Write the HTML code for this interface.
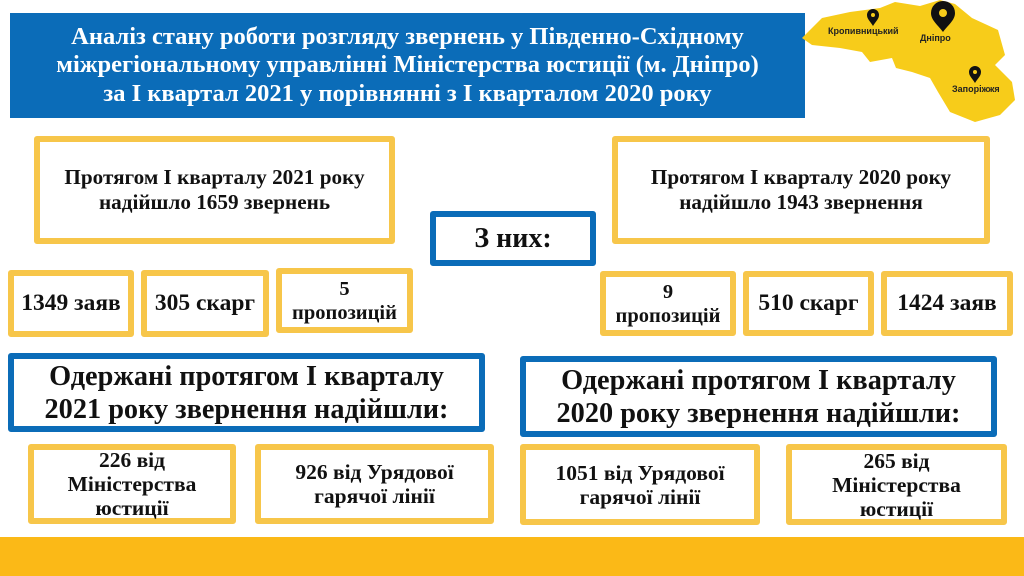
<!DOCTYPE html>
<html><head><meta charset="utf-8"><style>
body{margin:0;width:1024px;height:576px;position:relative;background:#fff;overflow:hidden;font-family:"Liberation Serif",serif;font-weight:bold;color:#111}
.b{position:absolute;box-sizing:border-box;display:flex;align-items:center;justify-content:center;text-align:center;background:#fff}
.y{border:6px solid #f7c64a;border-radius:3px}
.bl{border:6px solid #0b6cb8;border-radius:3px}
</style></head><body>
<div class="b" style="left:10px;top:13px;width:795px;height:105px;background:#0b6cb8;color:#fff;font-size:24.5px;line-height:28.5px">Аналіз стану роботи розгляду звернень у Південно-Східному<br>міжрегіональному управлінні Міністерства юстиції (м. Дніпро)<br>за І квартал 2021 у порівнянні з І кварталом 2020 року</div>
<svg style="position:absolute;left:800px;top:0" width="224" height="130" viewBox="0 0 224 130">
<path d="M2,38 L22,18 L50,12 L80,8 L95,2 L120,6 L140,0 L155,4 L172,18 L198,30 L205,55 L195,65 L212,82 L215,100 L200,115 L175,122 L150,112 L138,92 L130,78 L112,72 L96,68 L92,58 L70,62 L62,52 L40,48 L12,45 Z" fill="#f7cc1a"/>
<g font-family="Liberation Sans,sans-serif" font-size="9" font-weight="bold" fill="#222"><text x="28" y="34">Кропивницький</text><text x="120" y="41">Дніпро</text><text x="152" y="92">Запоріжжя</text></g>
<path d="M73,26 C70,21 67,19 67,15 A6,6 0 0 1 79,15 C79,19 76,21 73,26Z" fill="#111"/>
<path d="M143,32 C137,24 131,20 131,13 A12,12 0 0 1 155,13 C155,20 149,24 143,32Z" fill="#111"/>
<path d="M175,83 C172,78 169,76 169,72 A6,6 0 0 1 181,72 C181,76 178,78 175,83Z" fill="#111"/>
<circle cx="73" cy="15" r="2" fill="#f7cc1a"/><circle cx="143" cy="13" r="4" fill="#f7cc1a"/><circle cx="175" cy="72" r="2" fill="#f7cc1a"/>
</svg>
<div class="b y" style="left:34px;top:136px;width:361px;height:108px;font-size:21.2px;line-height:25px">Протягом І кварталу 2021 року<br>надійшло 1659 звернень</div>
<div class="b y" style="left:612px;top:136px;width:378px;height:108px;font-size:21.2px;line-height:25px">Протягом І кварталу 2020 року<br>надійшло 1943 звернення</div>
<div class="b bl" style="left:430px;top:211px;width:166px;height:55px;font-size:28px">З них:</div>
<div class="b y" style="left:8px;top:270px;width:126px;height:67px;font-size:23.5px">1349 заяв</div>
<div class="b y" style="left:141px;top:270px;width:128px;height:67px;font-size:23.5px">305 скарг</div>
<div class="b y" style="left:276px;top:268px;width:137px;height:65px;font-size:20.5px;line-height:24px">5<br>пропозицій</div>
<div class="b y" style="left:600px;top:271px;width:136px;height:65px;font-size:20.5px;line-height:24px">9<br>пропозицій</div>
<div class="b y" style="left:743px;top:271px;width:131px;height:65px;font-size:23.5px">510 скарг</div>
<div class="b y" style="left:881px;top:271px;width:132px;height:65px;font-size:23.5px">1424 заяв</div>
<div class="b bl" style="left:8px;top:353px;width:477px;height:79px;font-size:28.3px;line-height:33px">Одержані протягом І кварталу<br>2021 року звернення надійшли:</div>
<div class="b bl" style="left:520px;top:356px;width:477px;height:81px;font-size:28.3px;line-height:33px">Одержані протягом І кварталу<br>2020 року звернення надійшли:</div>
<div class="b y" style="left:28px;top:444px;width:208px;height:80px;font-size:21.5px;line-height:24px">226 від<br>Міністерства<br>юстиції</div>
<div class="b y" style="left:255px;top:444px;width:239px;height:80px;font-size:21.5px;line-height:24px">926 від Урядової<br>гарячої лінії</div>
<div class="b y" style="left:520px;top:444px;width:240px;height:81px;font-size:21.5px;line-height:24px">1051 від Урядової<br>гарячої лінії</div>
<div class="b y" style="left:786px;top:444px;width:221px;height:81px;font-size:21.5px;line-height:24px">265 від<br>Міністерства<br>юстиції</div>
<div style="position:absolute;left:0;top:537px;width:1024px;height:39px;background:#fbb917"></div>
</body></html>
